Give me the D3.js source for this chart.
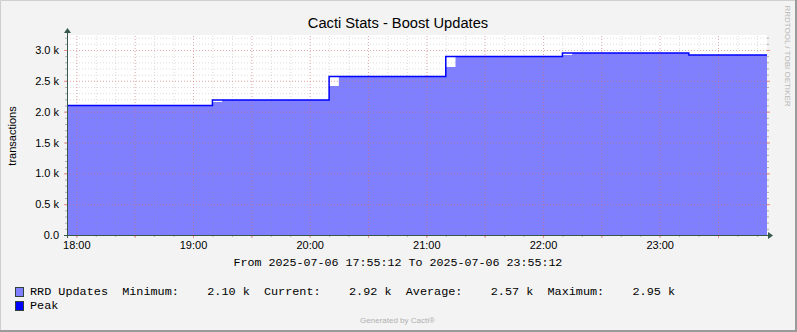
<!DOCTYPE html>
<html>
<head>
<meta charset="utf-8">
<script src="https://cdn.jsdelivr.net/npm/d3@7"></script>
<style>
  body { margin: 0; background: #f3f3f3; }
  svg text { font-family: "Liberation Sans", Arial, sans-serif; }
  .mono { font-family: "Liberation Mono", "Courier New", monospace !important; white-space: pre; }
</style>
</head>
<body>
<div id="chart"></div>
<script>
// sample boundaries (step series, each value holds until the next time)
let sampleTimes = ["17:55:12","19:10:00","19:15:00","20:10:00","20:15:00","21:10:00","21:15:00","22:10:00","22:15:00","23:15:00","23:55:12"];
let rrdUpdates = [2100, 2155, 2190, 2415, 2570, 2725, 2895, 2920, 2950, 2920, 2920];
let peakValues = [2100, 2190, 2190, 2570, 2570, 2895, 2895, 2950, 2950, 2920, 2920];

let yTicks = [0, 500, 1000, 1500, 2000, 2500, 3000];
let yTickLabels = ["0.0", "0.5 k", "1.0 k", "1.5 k", "2.0 k", "2.5 k", "3.0 k"];
let xTickLabels = ["18:00", "19:00", "20:00", "21:00", "22:00", "23:00"];

let legendRows = [
  {label: "RRD Updates  Minimum:    2.10 k  Current:    2.92 k  Average:    2.57 k  Maximum:    2.95 k", color: "#7f7fff"},
  {label: "Peak", color: "#0000ff"}
];

var svgwidth = 797, svgheight = 332;
var margin = {top: 35, left: 67, right: 30, bottom: 97};
var chartWidth = svgwidth - margin.left - margin.right;   // 700
var chartHeight = svgheight - margin.top - margin.bottom; // 200

var parse = d3.timeParse("%Y-%m-%d %H:%M:%S");
var data = sampleTimes.map((t, i) => ({
  t: parse("2025-07-06 " + t),
  v: rrdUpdates[i],
  p: peakValues[i]
}));

var svg = d3.select("#chart").append("svg")
  .attr("width", svgwidth)
  .attr("height", svgheight);

// background + frame
svg.append("rect").attr("width", svgwidth).attr("height", svgheight).attr("fill", "#f3f3f3");
svg.append("path").attr("d", `M0.5,${svgheight} V0.5 H${svgwidth}`).attr("stroke", "#cfcfcf").attr("fill", "none");
svg.append("path").attr("d", `M0,${svgheight-1} H${svgwidth-1} V0`).attr("stroke", "#9a9a9a").attr("stroke-width", 2).attr("fill", "none");

var x = d3.scaleTime()
  .domain([data[0].t, data[data.length - 1].t])
  .range([0, chartWidth]);
var y = d3.scaleLinear()
  .domain([0, 3243])
  .range([chartHeight, 0]);

var g = svg.append("g").attr("transform", `translate(${margin.left},${margin.top})`);

g.append("rect").attr("width", chartWidth).attr("height", chartHeight).attr("fill", "#ffffff");

// area
var area = d3.area().curve(d3.curveStepAfter)
  .x(d => x(d.t)).y0(chartHeight).y1(d => y(d.v));
g.append("path").datum(data).attr("d", area).attr("fill", "#7f7fff");

// grids
var minorX = d3.axisBottom(x).ticks(d3.timeMinute.every(10)).tickSize(-chartHeight).tickFormat("");
var majorX = d3.axisBottom(x).ticks(d3.timeMinute.every(30)).tickSize(-chartHeight).tickFormat("");
var minorY = d3.axisLeft(y).tickValues(d3.range(0, 3201, 100)).tickSize(-chartWidth).tickFormat("");
var majorY = d3.axisLeft(y).tickValues(yTicks).tickSize(-chartWidth).tickFormat("");

function grid(axis, transform, color) {
  var gg = g.append("g").attr("transform", transform).call(axis);
  gg.select(".domain").remove();
  gg.selectAll("line").attr("stroke", color).attr("stroke-dasharray", "1,2");
  return gg;
}
grid(minorX, `translate(0,${chartHeight})`, "rgba(140,140,140,0.3)");
grid(minorY, "translate(0,0)", "rgba(140,140,140,0.3)");
grid(majorX, `translate(0,${chartHeight})`, "rgba(235,110,110,0.45)");
grid(majorY, "translate(0,0)", "rgba(235,110,110,0.45)");

// small tick marks on the frame
function ticks(axis, transform, color) {
  var gg = g.append("g").attr("transform", transform).call(axis);
  gg.select(".domain").remove();
  gg.selectAll("line").attr("stroke", color);
}
ticks(d3.axisBottom(x).ticks(d3.timeMinute.every(10)).tickSize(2).tickFormat(""), `translate(0,${chartHeight})`, "#b0b0b0");
ticks(d3.axisBottom(x).ticks(d3.timeMinute.every(30)).tickSize(3).tickFormat(""), `translate(0,${chartHeight})`, "#f09090");
ticks(d3.axisLeft(y).tickValues(d3.range(0, 3201, 100)).tickSize(2).tickFormat(""), "translate(0,0)", "#b0b0b0");
ticks(d3.axisLeft(y).tickValues(yTicks).tickSize(3).tickFormat(""), "translate(0,0)", "#f09090");
ticks(d3.axisRight(y).tickValues(d3.range(0, 3201, 100)).tickSize(2).tickFormat(""), `translate(${chartWidth},0)`, "#b0b0b0");
ticks(d3.axisRight(y).tickValues(yTicks).tickSize(3).tickFormat(""), `translate(${chartWidth},0)`, "#f09090");

// peak line
var line = d3.line().curve(d3.curveStepAfter).x(d => x(d.t)).y(d => y(d.p));
g.append("path").datum(data).attr("d", line)
  .attr("fill", "none").attr("stroke", "#0000ff").attr("stroke-width", 1.5);

// axes with arrows
var axisColor = "#37594c";
g.append("line").attr("x1", -3).attr("x2", chartWidth + 2).attr("y1", chartHeight + 0.5).attr("y2", chartHeight + 0.5)
  .attr("stroke", axisColor);
g.append("line").attr("x1", 0.5).attr("x2", 0.5).attr("y1", chartHeight + 3).attr("y2", -3)
  .attr("stroke", axisColor);
g.append("path").attr("d", `M${chartWidth + 1},${chartHeight - 3} L${chartWidth + 6},${chartHeight + 0.5} L${chartWidth + 1},${chartHeight + 4} Z`)
  .attr("fill", axisColor);
g.append("path").attr("d", `M-3,-2 L0.5,-7 L4,-2 Z`).attr("fill", axisColor);

// axis labels
var xAxis = d3.axisBottom(x)
  .ticks(d3.timeHour.every(1))
  .tickSize(0).tickPadding(6)
  .tickFormat((d, i) => xTickLabels[i]);
var xg = g.append("g").attr("transform", `translate(0,${chartHeight})`).call(xAxis);
xg.select(".domain").remove();
xg.selectAll("text").attr("font-size", "11px").attr("fill", "#000").attr("font-family", "Liberation Sans, Arial, sans-serif");

var yAxis = d3.axisLeft(y).tickValues(yTicks).tickSize(0).tickPadding(8)
  .tickFormat((d, i) => yTickLabels[i]);
var yg = g.append("g").call(yAxis);
yg.select(".domain").remove();
yg.selectAll("text").attr("font-size", "11px").attr("fill", "#000").attr("font-family", "Liberation Sans, Arial, sans-serif");

// title and captions
svg.append("text").attr("x", 398).attr("y", 28).attr("text-anchor", "middle")
  .attr("font-size", "14.7px").attr("fill", "#000").text("Cacti Stats - Boost Updates");

svg.append("text").attr("transform", "translate(15.5,136) rotate(-90)").attr("text-anchor", "middle")
  .attr("font-size", "11px").attr("fill", "#000").text("transactions");

svg.append("text").attr("transform", "translate(785,56) rotate(90)").attr("text-anchor", "middle")
  .attr("font-size", "8px").attr("fill", "#b8b8b8").text("RRDTOOL / TOBI OETIKER");

svg.append("text").attr("class", "mono").attr("x", 398).attr("y", 266).attr("text-anchor", "middle")
  .attr("font-size", "11.67px").attr("fill", "#000")
  .text("From 2025-07-06 17:55:12 To 2025-07-06 23:55:12");

var legend = svg.selectAll(".legend").data(legendRows).enter().append("g")
  .attr("transform", (d, i) => `translate(15,${287 + i * 14})`);
legend.append("rect").attr("x", 0.5).attr("y", 0.5).attr("width", 8).attr("height", 9)
  .attr("fill", d => d.color).attr("stroke", "#2f3f3a");
legend.append("text").attr("class", "mono").attr("x", 15).attr("y", 7.5)
  .attr("xml:space", "preserve")
  .attr("font-size", "11.82px").attr("fill", "#000").text(d => d.label);

svg.append("text").attr("x", 397.5).attr("y", 323).attr("text-anchor", "middle")
  .attr("font-size", "8px").attr("fill", "#b0b0b0").text("Generated by Cacti®");
</script>
</body>
</html>
